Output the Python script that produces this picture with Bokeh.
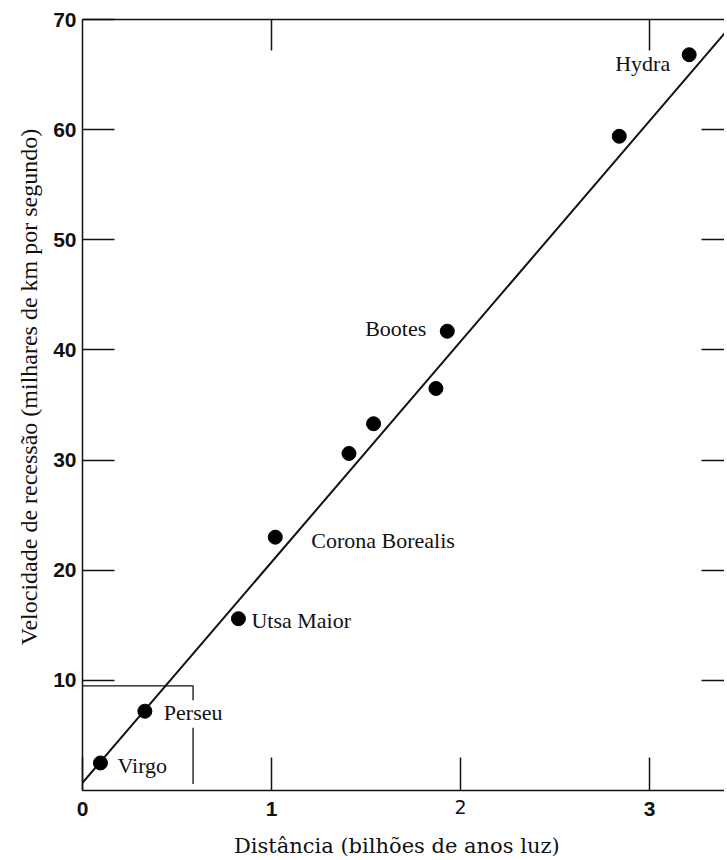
from bokeh.plotting import figure
from bokeh.models import Range1d, FixedTicker, LinearAxis, ColumnDataSource
from bokeh.core.properties import value
from bokeh.embed import file_html
from bokeh.resources import INLINE

# ---- data ----
galaxy_x = [0.095, 0.33, 0.825, 1.02, 1.41, 1.54, 1.87, 1.93, 2.84, 3.21]
galaxy_y = [2.5, 7.2, 15.6, 23.0, 30.6, 33.3, 36.5, 41.7, 59.4, 66.8]
galaxy_names = ["Virgo", "Perseu", "Utsa Maior", "Corona Borealis", "", "", "", "Bootes", "", "Hydra"]

fit_x = [0.0, 3.45]
fit_y = [0.7, 69.8]

inset_x_top = [0.0, 0.585, 0.585]
inset_y_top = [9.5, 9.5, 8.2]
inset_x_low = [0.585, 0.585]
inset_y_low = [5.7, 0.6]

x_ticks = [0, 1, 2, 3]
x_tick_labels = ["0", "1", "2", "3"]
x_light_labels = ["2"]          # printed in a light face in the original
y_ticks = [10, 20, 30, 40, 50, 60, 70]
y_tick_labels = ["10", "20", "30", "40", "50", "60", "70"]
top_ticks = [1, 3]
right_ticks = [10, 20, 30, 40, 50, 60]

x_title = "Distância (bilhões de anos luz)"
y_title = "Velocidade de recessão (milhares de km por segundo)"

# ---- label styling (screen offsets, alignment) ----
label_dx = [17, 19, 13, 36, 0, 0, 0, -21, 0, -19]
label_dy = [3, 1, 2, 3, 0, 0, 0, -3, 0, 9]
label_align = ["left", "left", "left", "left", "left", "left", "left", "right", "left", "right"]

PX_PER_X = 189.0
FRAME_W = 642
FRAME_H = 771
INK = "#111111"
NB = "\u00a0"

p = figure(frame_width=FRAME_W, frame_height=FRAME_H,
           x_range=Range1d(0, FRAME_W / PX_PER_X), y_range=Range1d(0, 70),
           output_backend="svg", toolbar_location=None,
           min_border_left=82, min_border_top=19, min_border_bottom=66, min_border_right=0)
p.grid.visible = False
p.outline_line_color = None
p.background_fill_color = "white"
p.border_fill_color = "white"

def style_axis(ax):
    ax.axis_line_color = INK
    ax.axis_line_width = 1.5
    ax.major_tick_line_color = INK
    ax.major_tick_line_width = 1.5
    ax.major_tick_out = 0
    ax.minor_tick_in = 0
    ax.minor_tick_out = 0
    ax.major_label_text_color = INK

# bottom axis: line, inward ticks and the light "2"
xa = p.xaxis[0]
style_axis(xa)
xa.ticker = FixedTicker(ticks=x_ticks)
xa.major_label_overrides = {t: (lab if lab in x_light_labels else "") for t, lab in zip(x_ticks, x_tick_labels)}
xa.major_tick_in = 33
xa.major_label_standoff = 9
xa.major_label_text_font = "DejaVu Sans"
xa.major_label_text_font_style = "normal"
xa.major_label_text_font_size = "19px"

# second bottom axis: bold labels 0, 1, 3 on the same row, plus the title
bold_ticks = [t for t, lab in zip(x_ticks, x_tick_labels) if lab not in x_light_labels]
xb = LinearAxis(ticker=FixedTicker(ticks=bold_ticks))
style_axis(xb)
xb.axis_line_color = None
xb.major_tick_line_color = None
xb.major_tick_in = 0
xb.major_label_overrides = {t: lab for t, lab in zip(x_ticks, x_tick_labels) if lab not in x_light_labels}
xb.major_label_standoff = -15
xb.major_label_text_font = "Liberation Sans"
xb.major_label_text_font_style = "bold"
xb.major_label_text_font_size = "21px"
xb.axis_label = x_title + NB * 2
xb.axis_label_text_font = "DejaVu Serif"
xb.axis_label_text_font_style = "normal"
xb.axis_label_text_font_size = "21px"
xb.axis_label_text_color = INK
xb.axis_label_standoff = 15
p.add_layout(xb, "below")

# left axis
ya = p.yaxis[0]
style_axis(ya)
ya.ticker = FixedTicker(ticks=y_ticks)
ya.major_label_overrides = {t: lab for t, lab in zip(y_ticks, y_tick_labels)}
ya.major_tick_in = 32
ya.major_label_standoff = 6
ya.major_label_text_font = "Liberation Sans"
ya.major_label_text_font_style = "bold"
ya.major_label_text_font_size = "21px"
ya.axis_label = NB * 6 + y_title
ya.axis_label_text_font = "Liberation Serif"
ya.axis_label_text_font_style = "normal"
ya.axis_label_text_font_size = "24px"
ya.axis_label_text_color = INK
ya.axis_label_standoff = 8

# top axis (border line with inward ticks)
ta = LinearAxis(ticker=FixedTicker(ticks=top_ticks))
style_axis(ta)
ta.major_tick_in = 31
ta.major_label_overrides = {t: "" for t in top_ticks}
ta.major_label_standoff = 0
ta.major_label_text_font_size = "1px"
p.add_layout(ta, "above")

# right axis (inward ticks only)
ra = LinearAxis(ticker=FixedTicker(ticks=right_ticks))
style_axis(ra)
ra.axis_line_color = None
ra.major_tick_in = 23
ra.major_label_overrides = {t: "" for t in right_ticks}
ra.major_label_standoff = 0
ra.major_label_text_font_size = "1px"
p.add_layout(ra, "right")

# inset box
p.line(inset_x_top, inset_y_top, line_color=INK, line_width=1.3)
p.line(inset_x_low, inset_y_low, line_color=INK, line_width=1.3)

# fitted line
p.line(fit_x, fit_y, line_color=INK, line_width=2)

# galaxies
p.scatter(galaxy_x, galaxy_y, size=14, color="black")

# galaxy labels
for align in ("left", "right"):
    idx = [i for i, n in enumerate(galaxy_names) if n and label_align[i] == align]
    src = ColumnDataSource(dict(
        x=[galaxy_x[i] for i in idx], y=[galaxy_y[i] for i in idx],
        t=[galaxy_names[i] for i in idx],
        dx=[label_dx[i] for i in idx], dy=[label_dy[i] for i in idx]))
    p.text(x="x", y="y", text="t", x_offset="dx", y_offset="dy", source=src,
           text_align=align, text_baseline="middle", text_color=INK,
           text_font=value("Liberation Serif"), text_font_size="22px")

open("out.html", "w").write(file_html(p, INLINE))
